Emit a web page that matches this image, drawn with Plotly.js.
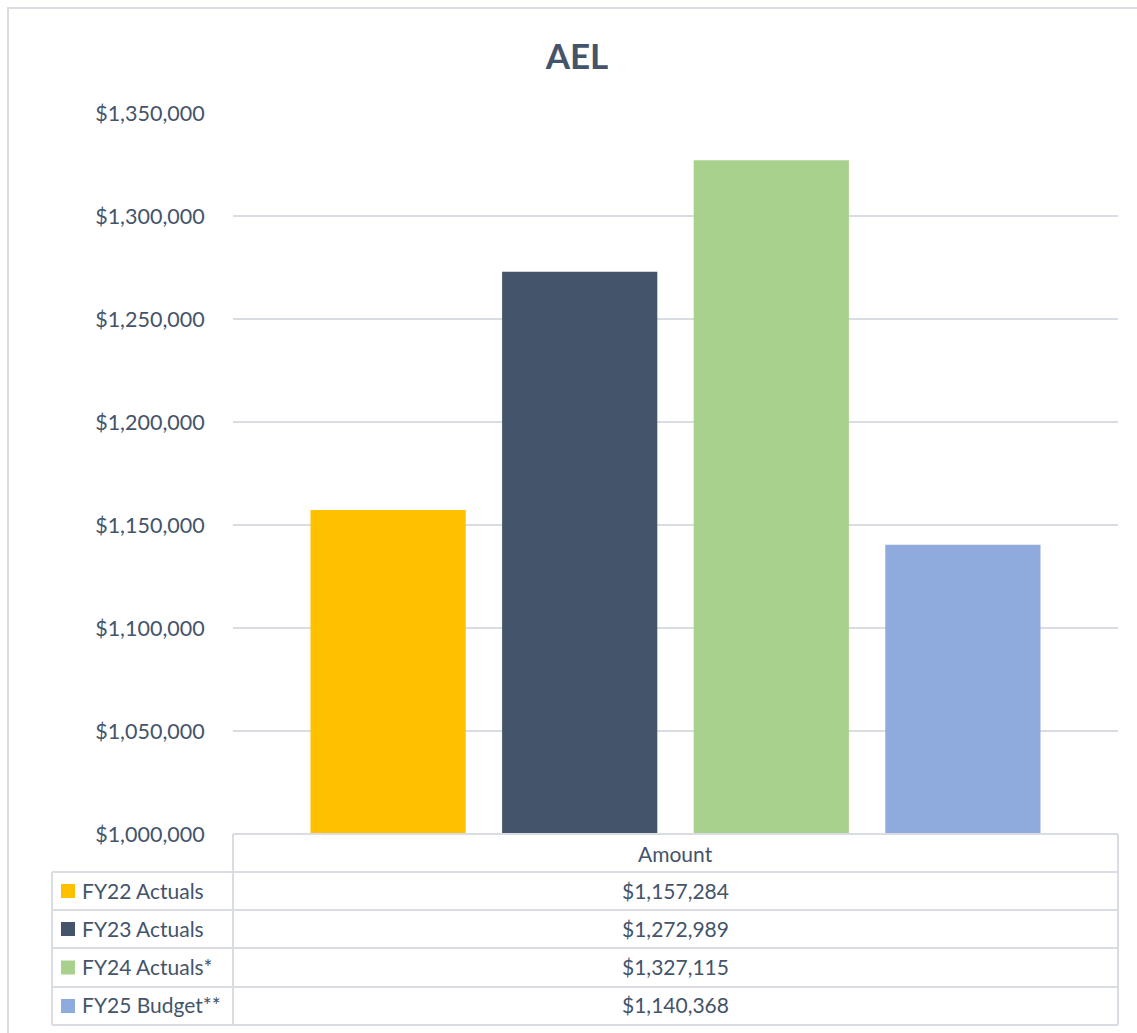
<!DOCTYPE html>
<html>
<head>
<meta charset="utf-8">
<script src="https://cdn.plot.ly/plotly-3.0.1.min.js"></script>
<style>html,body{margin:0;padding:0;background:#fff;}#chart{width:1137px;height:1033px;}</style>
</head>
<body>
<div id="chart"></div>
<script>
// ---- data ----
const chartTitle = "AEL";
const category = "Amount";
const seriesNames = ["FY22 Actuals", "FY23 Actuals", "FY24 Actuals*", "FY25 Budget**"];
const amounts = [1157284, 1272989, 1327115, 1140368];
const yTickValues = [1000000, 1050000, 1100000, 1150000, 1200000, 1250000, 1300000, 1350000];

// ---- style ----
const colors = ["#FFC000", "#44546A", "#A9D18E", "#8FAADC"];
const textColor = "#44546A";
const lineColor = "#D9DDE3";
const fontFamily = "Lato, 'Open Sans', sans-serif";
const W = 1137, H = 1033;
const L = 233, R = 1118, T = 113, B = 834;

const px2x = px => (px - L) / (R - L);
const py2y = py => (B - py) / (B - T);
const fmt = v => "$" + v.toLocaleString("en-US");

const traces = seriesNames.map((name, i) => ({
  type: "bar",
  name: name,
  x: [category],
  y: [amounts[i]],
  marker: { color: colors[i] },
  hoverinfo: "name+y"
}));

// table geometry (pixels)
const tableLeft = 52, tableDiv = 233, tableRight = 1118;
const rowEdges = [834, 872, 910, 948, 987, 1025];

const shapes = [];
const lineStyle = { color: lineColor, width: 2 };
// outer chart frame
shapes.push({ type: "rect", xref: "paper", yref: "paper",
  x0: px2x(8), x1: px2x(1150), y0: py2y(8), y1: py2y(1045),
  line: { color: lineColor, width: 2 }, fillcolor: "rgba(0,0,0,0)", layer: "below" });
// horizontal table lines
rowEdges.forEach((e, k) => {
  shapes.push({ type: "line", xref: "paper", yref: "paper",
    x0: px2x(k === 0 ? tableDiv : tableLeft), x1: px2x(tableRight),
    y0: py2y(e), y1: py2y(e), line: lineStyle });
});
// vertical table lines
shapes.push({ type: "line", xref: "paper", yref: "paper", x0: px2x(tableLeft), x1: px2x(tableLeft),
  y0: py2y(rowEdges[1]), y1: py2y(rowEdges[5]), line: lineStyle });
shapes.push({ type: "line", xref: "paper", yref: "paper", x0: px2x(tableDiv), x1: px2x(tableDiv),
  y0: py2y(rowEdges[0]), y1: py2y(rowEdges[5]), line: lineStyle });
shapes.push({ type: "line", xref: "paper", yref: "paper", x0: px2x(tableRight), x1: px2x(tableRight),
  y0: py2y(rowEdges[0]), y1: py2y(rowEdges[5]), line: lineStyle });

const annotations = [];
const cellFont = { family: fontFamily, size: 21, color: textColor };
annotations.push({ xref: "paper", yref: "paper", x: px2x((tableDiv + tableRight) / 2),
  y: py2y((rowEdges[0] + rowEdges[1]) / 2), text: category, showarrow: false,
  xanchor: "center", yanchor: "middle", font: cellFont });
seriesNames.forEach((name, i) => {
  const cy = (rowEdges[i + 1] + rowEdges[i + 2]) / 2;
  // legend key
  shapes.push({ type: "rect", xref: "paper", yref: "paper",
    x0: px2x(61), x1: px2x(75), y0: py2y(cy - 7), y1: py2y(cy + 7),
    fillcolor: colors[i], line: { width: 0 } });
  annotations.push({ xref: "paper", yref: "paper", x: px2x(80), y: py2y(cy - 1),
    text: name, showarrow: false, xanchor: "left", yanchor: "middle", font: cellFont });
  annotations.push({ xref: "paper", yref: "paper", x: px2x((tableDiv + tableRight) / 2), y: py2y(cy - 1),
    text: fmt(amounts[i]), showarrow: false, xanchor: "center", yanchor: "middle", font: cellFont });
});

const layout = {
  width: W, height: H, autosize: false,
  paper_bgcolor: "#fff", plot_bgcolor: "#fff",
  margin: { l: L, r: W - R, t: T, b: H - B, pad: 0 },
  title: { text: "<b>" + chartTitle + "</b>", x: 577 / W, xref: "container", xanchor: "center",
    y: 1 - 57 / H, yref: "container", yanchor: "middle",
    font: { family: fontFamily, size: 35, color: textColor } },
  showlegend: false,
  barmode: "group",
  bargap: 0.134,
  bargroupgap: 0.19,
  xaxis: { showticklabels: false, showline: false, showgrid: false, zeroline: false, ticks: "" },
  yaxis: {
    range: [1000000, 1350000], tickvals: yTickValues,
    ticktext: yTickValues.map(fmt),
    showgrid: true, gridcolor: lineColor, gridwidth: 2,
    zeroline: false, showline: false,
    ticks: "outside", ticklen: 23, tickcolor: "rgba(0,0,0,0)",
    tickfont: { family: fontFamily, size: 21.5, color: textColor }
  },
  shapes: shapes,
  annotations: annotations
};

Plotly.newPlot("chart", traces, layout, { displayModeBar: false, staticPlot: true });
</script>
</body>
</html>
